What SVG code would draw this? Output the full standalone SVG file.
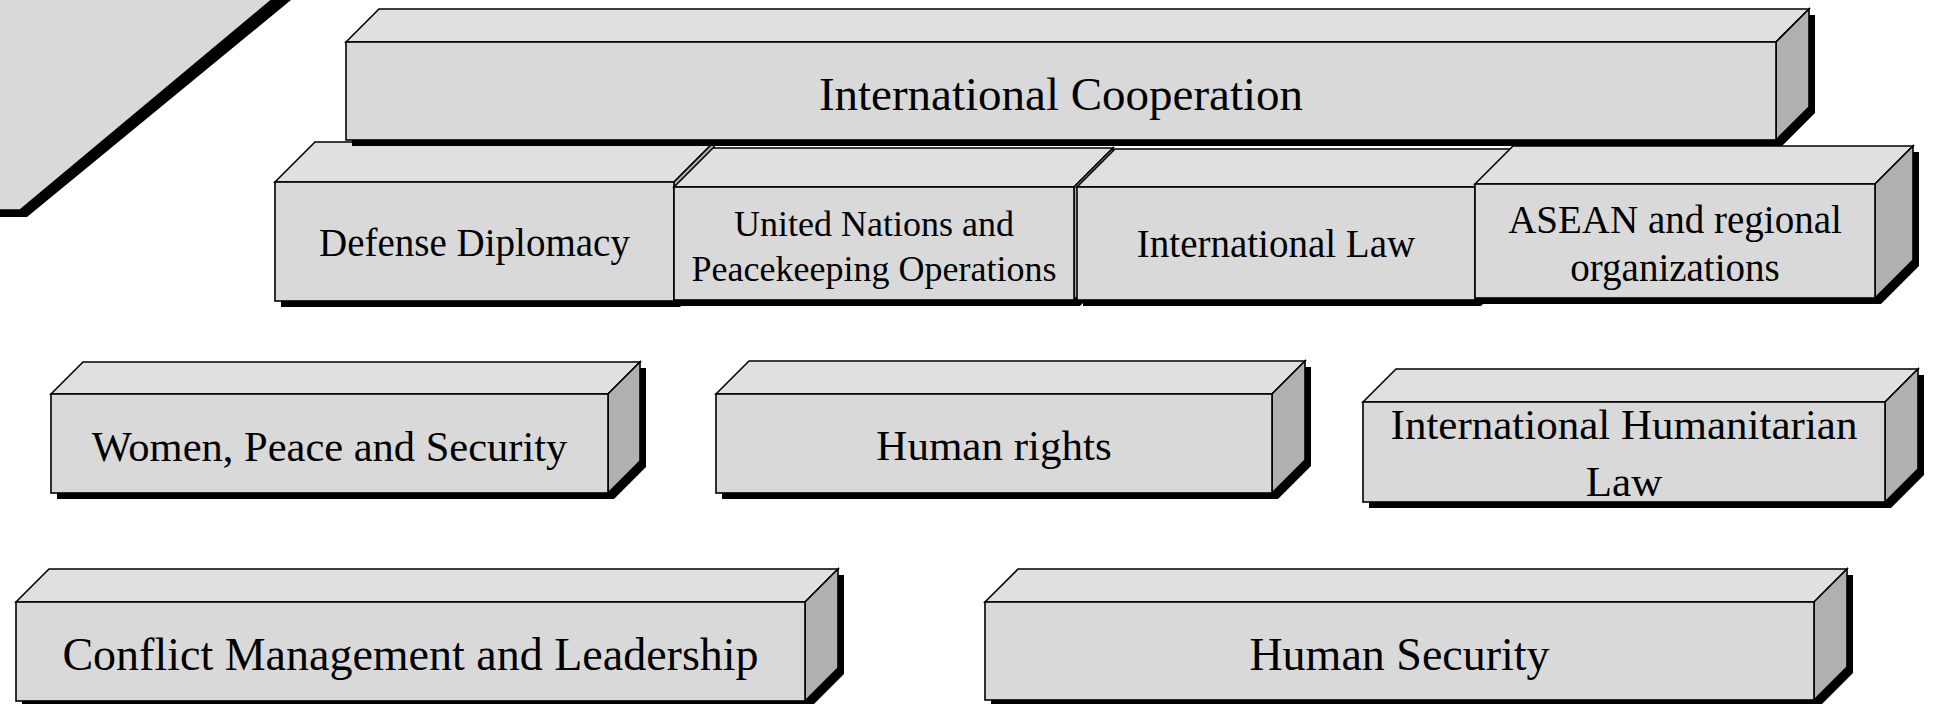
<svg xmlns="http://www.w3.org/2000/svg" width="1934" height="704" viewBox="0 0 1934 704">
<style>
.sh{fill:#000}
.fr{fill:#d9d9d9;stroke:#000;stroke-width:1.6;stroke-linejoin:miter}
.tp{fill:#e0e0e0;stroke:#000;stroke-width:1.6}
.sd{fill:#b0b0b0;stroke:#000;stroke-width:1.6}
text{font-family:"Liberation Serif","Times New Roman",serif;fill:#000;text-anchor:middle}
</style>
<rect width="1934" height="704" fill="#fff"/>
<g id="corner">
<polygon class="sh" points="0,0 291,0 27,217 0,217"/>
<polygon class="fr" points="-2,-2 274,-2 20,210 -2,210"/>
</g>
<g id="row2">
<g id="defense-diplomacy">
<polygon class="sh" points="281,188 321,148 720,148 720,267 680,307 281,307"/>
<polygon class="tp" points="275,182 315,142 714,142 674,182"/>
<polygon class="sd" points="674,182 714,142 714,261 674,301"/>
<rect class="fr" x="275" y="182" width="399" height="119"/>
<text x="474.5" y="256" font-size="39">Defense Diplomacy</text>
</g>
<g id="un-peacekeeping">
<polygon class="sh" points="680,193 719,154 1119,154 1119,267 1080,306 680,306"/>
<polygon class="tp" points="674,187 713,148 1113,148 1074,187"/>
<polygon class="sd" points="1074,187 1113,148 1113,261 1074,300"/>
<rect class="fr" x="674" y="187" width="400" height="113"/>
<text x="874" y="236" font-size="36">United Nations and</text>
<text x="874" y="281" font-size="36">Peacekeeping Operations</text>
</g>
<g id="international-law">
<polygon class="sh" points="1083,193 1121,155 1519,155 1519,268 1481,306 1083,306"/>
<polygon class="tp" points="1077,187 1115,149 1513,149 1475,187"/>
<polygon class="sd" points="1475,187 1513,149 1513,262 1475,300"/>
<rect class="fr" x="1077" y="187" width="398" height="113"/>
<text x="1276" y="257" font-size="39">International Law</text>
</g>
<g id="asean">
<polygon class="sh" points="1481,190 1519,152 1919,152 1919,266 1881,304 1481,304"/>
<polygon class="tp" points="1475,184 1513,146 1913,146 1875,184"/>
<polygon class="sd" points="1875,184 1913,146 1913,260 1875,298"/>
<rect class="fr" x="1475" y="184" width="400" height="114"/>
<text x="1675" y="233" font-size="39">ASEAN and regional</text>
<text x="1675" y="281" font-size="39">organizations</text>
</g>
</g>
<g id="international-cooperation">
<polygon class="sh" points="352,48 385,15 1815,15 1815,113 1782,146 352,146"/>
<polygon class="tp" points="346,42 379,9 1809,9 1776,42"/>
<polygon class="sd" points="1776,42 1809,9 1809,107 1776,140"/>
<rect class="fr" x="346" y="42" width="1430" height="98"/>
<text x="1061" y="110" font-size="47">International Cooperation</text>
</g>
<g id="women-peace-security">
<polygon class="sh" points="57,400 89,368 646,368 646,467 614,499 57,499"/>
<polygon class="tp" points="51,394 83,362 640,362 608,394"/>
<polygon class="sd" points="608,394 640,362 640,461 608,493"/>
<rect class="fr" x="51" y="394" width="557" height="99"/>
<text x="329.5" y="461" font-size="42.5">Women, Peace and Security</text>
</g>
<g id="human-rights">
<polygon class="sh" points="722,400 755,367 1311,367 1311,466 1278,499 722,499"/>
<polygon class="tp" points="716,394 749,361 1305,361 1272,394"/>
<polygon class="sd" points="1272,394 1305,361 1305,460 1272,493"/>
<rect class="fr" x="716" y="394" width="556" height="99"/>
<text x="994" y="460" font-size="43">Human rights</text>
</g>
<g id="international-humanitarian-law">
<polygon class="sh" points="1369,408 1402,375 1924,375 1924,475 1891,508 1369,508"/>
<polygon class="tp" points="1363,402 1396,369 1918,369 1885,402"/>
<polygon class="sd" points="1885,402 1918,369 1918,469 1885,502"/>
<rect class="fr" x="1363" y="402" width="522" height="100"/>
<text x="1624" y="439" font-size="43">International Humanitarian</text>
<text x="1624" y="496" font-size="43">Law</text>
</g>
<g id="conflict-management">
<polygon class="sh" points="22,608 55,575 844,575 844,674 811,707 22,707"/>
<polygon class="tp" points="16,602 49,569 838,569 805,602"/>
<polygon class="sd" points="805,602 838,569 838,668 805,701"/>
<rect class="fr" x="16" y="602" width="789" height="99"/>
<text x="410.5" y="670" font-size="46">Conflict Management and Leadership</text>
</g>
<g id="human-security">
<polygon class="sh" points="991,608 1024,575 1853,575 1853,673 1820,706 991,706"/>
<polygon class="tp" points="985,602 1018,569 1847,569 1814,602"/>
<polygon class="sd" points="1814,602 1847,569 1847,667 1814,700"/>
<rect class="fr" x="985" y="602" width="829" height="98"/>
<text x="1399.5" y="670" font-size="46">Human Security</text>
</g>
<g id="connectors"></g>
</svg>
